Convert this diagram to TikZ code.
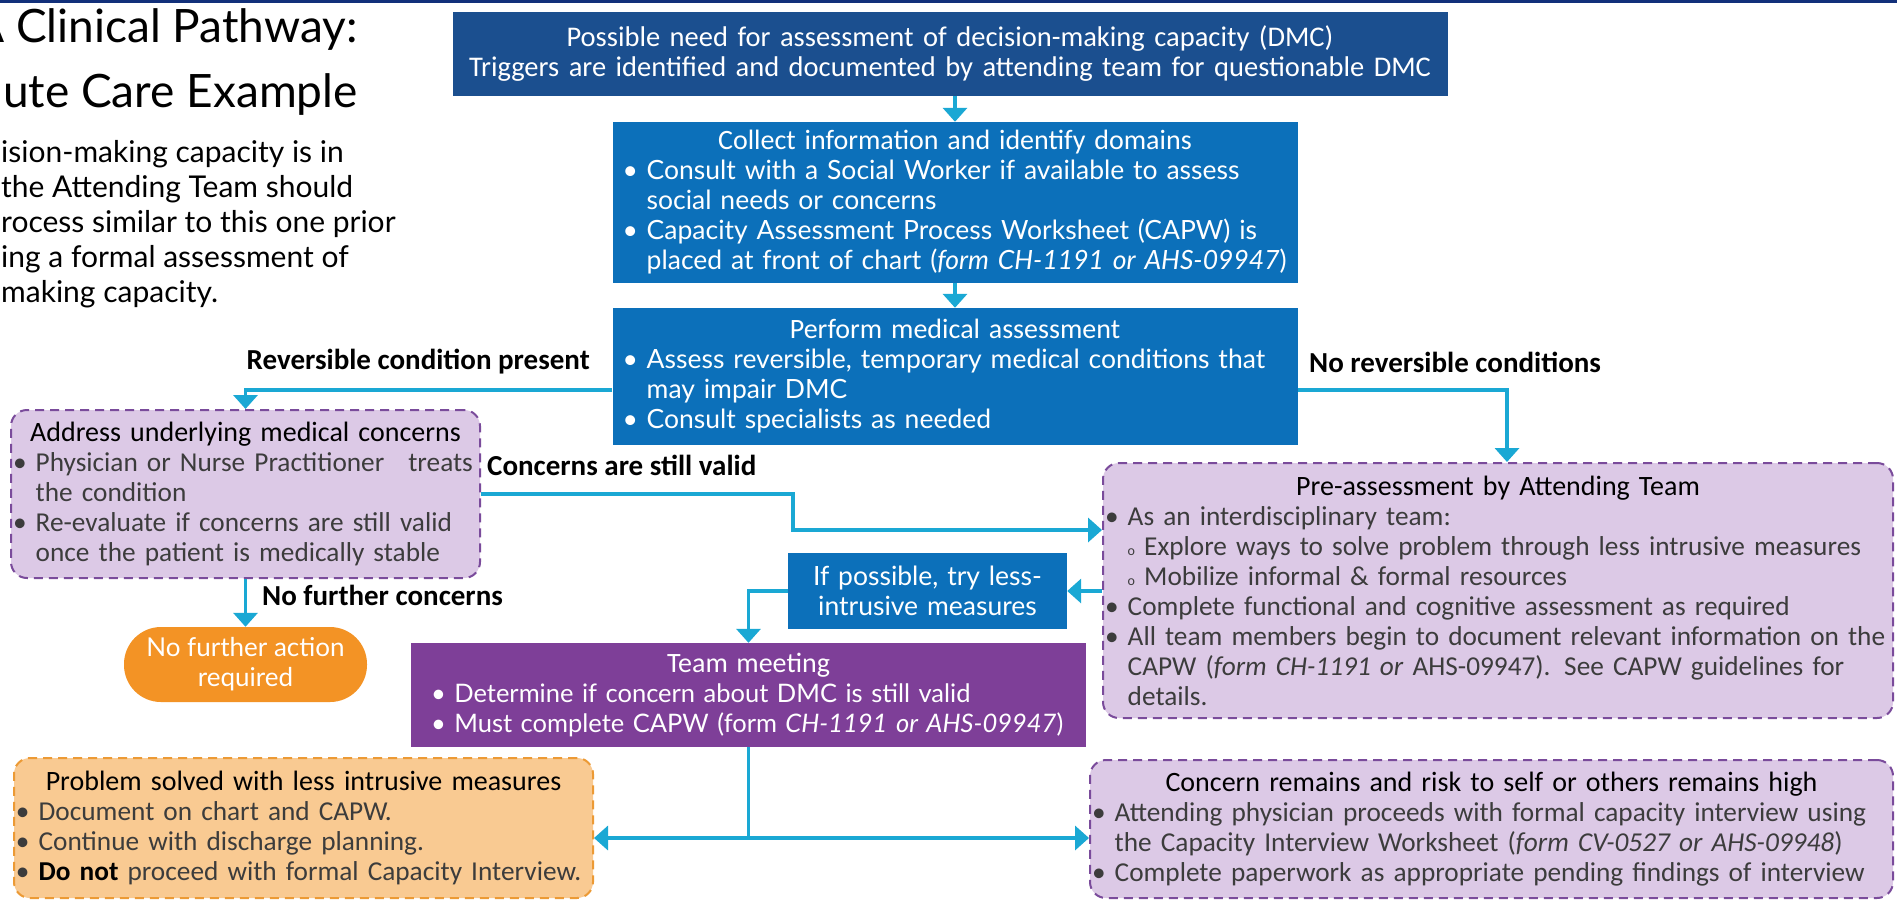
\documentclass[tikz,border=0pt]{standalone}
\usepackage{fontspec}
\setmainfont{Lato}
\newfontfamily\narrowfont{Carlito}
\usetikzlibrary{arrows.meta,positioning}
\definecolor{dmcnavy}{HTML}{12307A}
\definecolor{dmcdark}{HTML}{1B4F8F}
\definecolor{dmcblue}{HTML}{0C70BA}
\definecolor{dmcpurple}{HTML}{7E3F98}
\definecolor{dmclilac}{HTML}{DCC9E6}
\definecolor{dmcdash}{HTML}{7A4B9B}
\definecolor{dmcorange}{HTML}{F39325}
\definecolor{dmcpeach}{HTML}{F9CA92}
\definecolor{dmcpeachline}{HTML}{EC9A35}
\definecolor{dmccyan}{HTML}{1AA8D4}
\definecolor{dmcgray}{HTML}{3C3C3C}
\newcommand{\bu}{•\ }
\newcommand{\hang}{\hphantom{•\ }}
\newcommand{\subo}{{\fontsize{14}{14}\selectfont o}\ }
\newcommand{\boxhead}[1]{\hspace*{0pt plus 1filll}{\narrowfont\fontsize{28}{30}\selectfont #1}\hspace*{0pt plus 1filll}\mbox{}}

\begin{document}
\begin{tikzpicture}[x=1pt, y=-1pt,
  solidbox/.style={fill=#1, text=white, inner xsep=10pt, inner ysep=0pt,
    align=left, font=\fontsize{26.5}{30}\selectfont},
  lilacbox/.style={draw=dmcdash, fill=dmclilac, line width=2pt,
    dash pattern=on 9pt off 6pt, rounded corners=16pt, text=dmcgray,
    inner xsep=2pt, inner ysep=0pt, align=left,
    font=\narrowfont\fontsize{27.3}{30}\selectfont},
  peachbox/.style={lilacbox, draw=dmcpeachline, fill=dmcpeach},
  pill/.style={fill=dmcorange, text=white, rounded corners=37pt,
    align=center, font=\fontsize{26}{30}\selectfont},
  flowlabel/.style={font=\narrowfont\bfseries\fontsize{29}{32}\selectfont, inner sep=0pt},
  titletext/.style={font=\fontsize{46}{52}\selectfont, inner sep=0pt},
  link/.style={draw=dmccyan, line width=3.5pt},
  arr/.style={link, -{Triangle[width=24pt,length=14pt]}}
]
  \useasboundingbox (0,0) rectangle (1897,903);
  \clip (0,0) rectangle (1897,903);
  \fill[white] (0,0) rectangle (1897,903);
  \fill[dmcnavy] (0,0) rectangle (1897,3);

  \node[titletext, anchor=base east] (title1) at (358,42) {A Clinical Pathway:};
  \node[titletext, anchor=base east] (title2) at (358,107) {ute Care Example};
  \node[anchor=north west, align=left, inner sep=0pt,
    font=\fontsize{30}{35}\selectfont] (intro) at (1,140)
    {ision-making capacity is in\\the Attending Team should\\rocess similar to this one prior\\ing a formal assessment of\\making capacity.};

  \node[solidbox=dmcdark, align=center, font=\narrowfont\fontsize{28.5}{30}\selectfont,
    minimum width=995, minimum height=84, text width=975] (trigger) at (950,54)
    {Possible need for assessment of decision-making capacity (DMC)\\
     Triggers are identified and documented by attending team for questionable DMC};
  \node[solidbox=dmcblue, minimum width=685, minimum height=161, text width=665]
    (collect) at (955,202.5)
    {\boxhead{Collect information and identify domains}\\
     \bu Consult with a Social Worker if available to assess\\
     \hang social needs or concerns\\
     \bu Capacity Assessment Process Worksheet (CAPW) is\\
     \hang placed at front of chart (\textit{form CH-1191 or AHS-09947})};
  \node[solidbox=dmcblue, minimum width=685, minimum height=137, text width=665]
    (medical) at (955,376.5)
    {\boxhead{Perform medical assessment}\\
     \bu Assess reversible, temporary medical conditions that\\
     \hang may impair DMC\\
     \bu Consult specialists as needed};
  \node[lilacbox, minimum width=469, minimum height=168, text width=465]
    (address) at (245.5,494)
    {\boxhead{\textcolor{black}{Address underlying medical concerns}}\\
     \bu Physician or Nurse Practitioner\hspace{24pt}treats\\
     \hang the condition\\
     \bu Re-evaluate if concerns are still valid\\
     \hang once the patient is medically stable};
  \node[lilacbox, minimum width=790, minimum height=255, text width=786]
    (preassess) at (1498,590.5)
    {\boxhead{\textcolor{black}{Pre-assessment by Attending Team}}\\
     \bu As an interdisciplinary team:\\
     \hang\subo Explore ways to solve problem through less intrusive measures\\
     \hang\subo Mobilize informal \& formal resources\\
     \bu Complete functional and cognitive assessment as required\\
     \bu All team members begin to document relevant information on the\\
     \hang CAPW (\textit{form CH-1191 or} AHS-09947). See CAPW guidelines for\\
     \hang details.};
  \node[solidbox=dmcblue, align=center, minimum width=279, minimum height=76,
    text width=259] (ifless) at (927.5,591)
    {If possible, try less-\\intrusive measures};
  \node[solidbox=dmcpurple, font=\fontsize{25.5}{30}\selectfont,
    minimum width=675, minimum height=104, text width=635]
    (team) at (748.5,695)
    {\boxhead{Team meeting}\\
     \bu Determine if concern about DMC is still valid\\
     \bu Must complete CAPW (form \textit{CH-1191 or AHS-09947})};
  \node[pill, minimum width=243, minimum height=75] (noaction) at (245.5,664.5)
    {No further action\\required};
  \node[peachbox, minimum width=579, minimum height=140, text width=575]
    (solved) at (303.5,828)
    {\boxhead{\textcolor{black}{Problem solved with less intrusive measures}}\\
     \bu Document on chart and CAPW.\\
     \bu Continue with discharge planning.\\
     \bu \textcolor{black}{\textbf{Do not}} proceed with formal Capacity Interview.};
  \node[lilacbox, minimum width=803, minimum height=138, text width=799]
    (remains) at (1491.5,829)
    {\boxhead{\textcolor{black}{Concern remains and risk to self or others remains high}}\\
     \bu Attending physician proceeds with formal capacity interview using\\
     \hang the Capacity Interview Worksheet (\textit{form CV-0527 or AHS-09948})\\
     \bu Complete paperwork as appropriate pending findings of interview};

  \node[flowlabel, anchor=east] (revlabel) at (590,362) {Reversible condition present};
  \node[flowlabel, anchor=west] (nolabel) at (1309,362) {No reversible conditions};
  \node[flowlabel, anchor=west] (validlabel) at (487,465) {Concerns are still valid};
  \node[flowlabel, anchor=west] (furtherlabel) at (262,595) {No further concerns};

  \coordinate (revturn) at (245.5,390);
  \coordinate (noturn) at (1507,390);
  \coordinate (validturn) at (793,530);
  \coordinate (split) at (748.5,838);

  \draw[arr] (trigger.south -| collect.north) -- (collect);
  \draw[arr] (collect) -- (medical);
  \draw[arr] (medical.west |- revturn) -- (revturn) -- (address.north);
  \draw[arr] (medical.east |- noturn) -- (noturn) -- (noturn |- preassess.north);
  \draw[arr] (address.east) -| (validturn) -- (validturn -| preassess.west);
  \draw[arr] (preassess.west |- ifless) -- (ifless.east);
  \draw[arr] (ifless.west) -| (team.north);
  \draw[arr] (address.south) -- (noaction.north);
  \draw[link] (team.south) -- (split);
  \draw[arr] (split) -- (split -| solved.east);
  \draw[arr] (split) -- (split -| remains.west);
\end{tikzpicture}
\end{document}
